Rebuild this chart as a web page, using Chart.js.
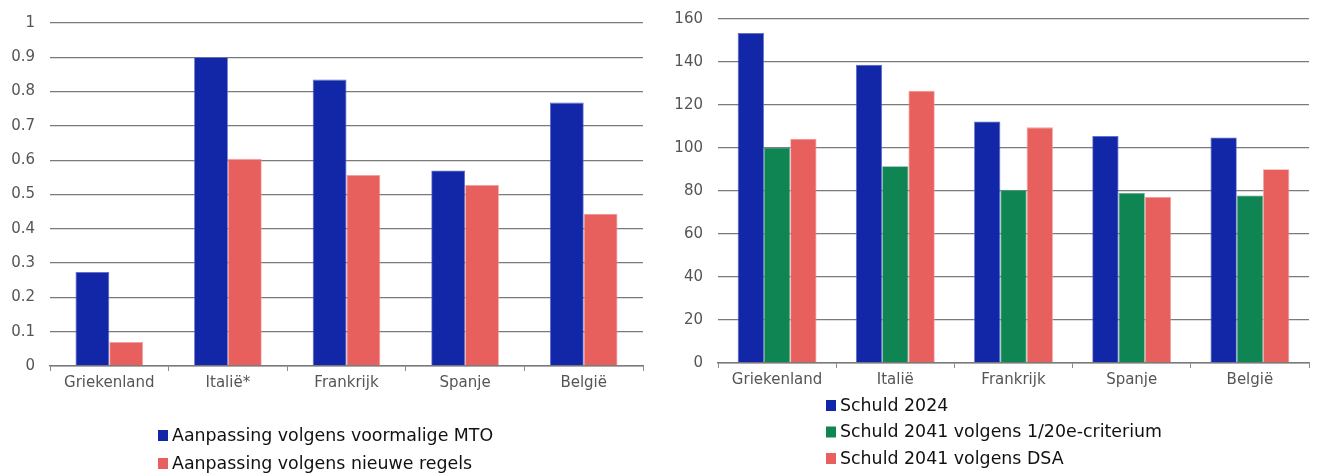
<!DOCTYPE html>
<html>
<head>
<meta charset="utf-8">
<script src="https://cdn.jsdelivr.net/npm/chart.js@4/dist/chart.umd.min.js"></script>
<style>
  html, body { margin: 0; padding: 0; background: #fff; }
  body { width: 1317px; height: 474px; position: relative; overflow: hidden; }
  .box { position: absolute; top: 0; height: 474px; }
  #boxLeft { left: 0; width: 650px; }
  #boxRight { left: 640px; width: 677px; }
</style>
</head>
<body>
<div class="box" id="boxLeft"><canvas id="chartLeft"></canvas></div>
<div class="box" id="boxRight"><canvas id="chartRight"></canvas></div>
<script>
// Budgettaire aanpassing (links) en schuldpad (rechts)
const landenLinks = ['Griekenland', 'Italië*', 'Frankrijk', 'Spanje', 'België'];
const aanpassingMTO = [0.274, 0.9, 0.835, 0.57, 0.768];
const aanpassingNieuw = [0.07, 0.604, 0.557, 0.528, 0.444];

const landenRechts = ['Griekenland', 'Italië', 'Frankrijk', 'Spanje', 'België'];
const schuld2024 = [153.5, 138.7, 112.3, 105.6, 104.9];
const schuld2041Criterium = [100.2, 91.5, 80.5, 79.1, 77.9];
const schuld2041DSA = [104.3, 126.6, 109.6, 77.2, 90.1];

const leftTicks = [0, 0.1, 0.2, 0.3, 0.4, 0.5, 0.6, 0.7, 0.8, 0.9, 1];
const rightTicks = [0, 20, 40, 60, 80, 100, 120, 140, 160];

const BLUE = '#1226a8';
const GREEN = '#0e8553';
const RED = '#e8605d';
const FONT = "'DejaVu Sans', Verdana, sans-serif";

// Vertical legend below the plot, drawn on the canvas
const listLegend = {
  id: 'listLegend',
  afterDraw(chart, args, opts) {
    const ctx = chart.ctx;
    ctx.save();
    ctx.font = '17.4px ' + FONT;
    ctx.textBaseline = 'middle';
    ctx.textAlign = 'left';
    chart.data.datasets.forEach((ds, i) => {
      const y = chart.chartArea.bottom + opts.top + i * opts.rowGap;
      ctx.fillStyle = ds.backgroundColor;
      ctx.fillRect(opts.x, y - 5, 10, 11);
      ctx.fillStyle = '#111';
      ctx.fillText(ds.label, opts.x + 14, y + 1);
    });
    ctx.restore();
  }
};

function makeOptions(ticks, yMax, yAxisWidth, xAxisHeight, padTop, padRight, legendOpts) {
  return {
    responsive: true,
    maintainAspectRatio: false,
    animation: false,
    layout: { padding: { top: padTop, right: padRight, bottom: 0, left: 0 } },
    plugins: {
      legend: { display: false },
      tooltip: { enabled: false },
      listLegend: legendOpts
    },
    scales: {
      x: {
        offset: true,
        grid: { display: true, drawOnChartArea: false, drawTicks: true, tickLength: 5, color: '#8a8a8a', offset: true },
        border: { display: true, color: '#7a7a7a', width: 1.5 },
        ticks: { color: '#555', font: { family: FONT, size: 15 }, padding: 3, maxRotation: 0, autoSkip: false },
        afterFit(s) { s.height = xAxisHeight; }
      },
      y: {
        min: 0,
        max: yMax,
        afterBuildTicks(s) { s.ticks = ticks.map(v => ({ value: v })); },
        grid: { color: '#7a7a7a', lineWidth: 1.3, drawTicks: false },
        border: { display: false },
        ticks: { color: '#555', font: { family: FONT, size: 15 }, padding: 15, callback: v => String(v) },
        afterFit(s) {
          s.width = yAxisWidth;
          s.paddingTop = 0;
          s.paddingBottom = 0;
        }
      }
    }
  };
}

new Chart(document.getElementById('chartLeft'), {
  type: 'bar',
  data: {
    labels: landenLinks,
    datasets: [
      { label: 'Aanpassing volgens voormalige MTO', data: aanpassingMTO, backgroundColor: BLUE, borderColor: '#5b66c4', borderWidth: 0.8, categoryPercentage: 0.57, barPercentage: 1 },
      { label: 'Aanpassing volgens nieuwe regels', data: aanpassingNieuw, backgroundColor: RED, borderColor: '#f0a09e', borderWidth: 0.8, categoryPercentage: 0.57, barPercentage: 1 }
    ]
  },
  options: makeOptions(leftTicks, 1, 50, 108, 23, 7, { x: 158, top: 69, rowGap: 28 }),
  plugins: [listLegend]
});

new Chart(document.getElementById('chartRight'), {
  type: 'bar',
  data: {
    labels: landenRechts,
    datasets: [
      { label: 'Schuld 2024', data: schuld2024, backgroundColor: BLUE, borderColor: '#5b66c4', borderWidth: 0.8, categoryPercentage: 0.667, barPercentage: 1 },
      { label: 'Schuld 2041 volgens 1/20e-criterium', data: schuld2041Criterium, backgroundColor: GREEN, borderColor: '#5aa884', borderWidth: 0.8, categoryPercentage: 0.667, barPercentage: 1 },
      { label: 'Schuld 2041 volgens DSA', data: schuld2041DSA, backgroundColor: RED, borderColor: '#f0a09e', borderWidth: 0.8, categoryPercentage: 0.667, barPercentage: 1 }
    ]
  },
  options: makeOptions(rightTicks, 160, 78, 111, 19, 8, { x: 186, top: 42, rowGap: 26.5 }),
  plugins: [listLegend]
});
</script>
</body>
</html>
